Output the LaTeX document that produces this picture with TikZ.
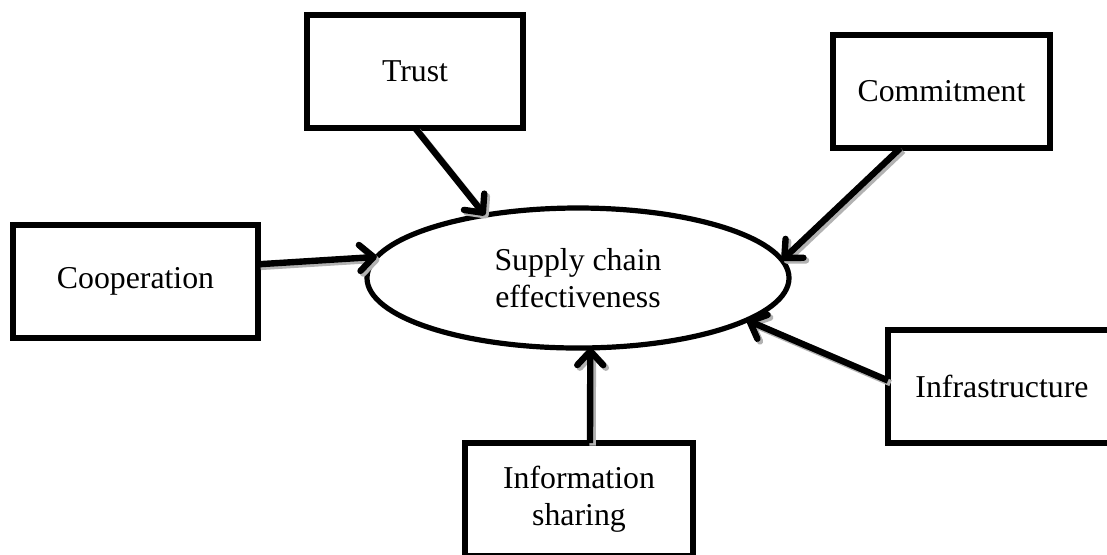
\documentclass[tikz,border=0pt]{standalone}
\usepackage{fontspec}
\setmainfont{Liberation Serif}
\usepackage{tikz}
\usetikzlibrary{arrows.meta}
\usetikzlibrary{shapes.geometric}

\tikzset{
  factor/.style={draw, line width=3pt, minimum height=56.5pt, inner sep=0pt, outer sep=0pt,
    align=center, font=\fontsize{15.9}{18.5}\selectfont},
  outcome/.style={draw, ellipse, line width=2.6pt, minimum width=211pt, minimum height=70pt,
    inner sep=0pt, outer sep=0pt, align=center, font=\fontsize{15.9}{18.5}\selectfont},
  link/.style={-{Straight Barb[length=7pt,width=13pt,round]}, line width=3.2pt},
  linkshade/.style={-{Straight Barb[length=7pt,width=13pt,round]}, line width=3.2pt, gray!60,
    transform canvas={shift={(1.3pt,-1.3pt)}}}
}

\begin{document}
\begin{tikzpicture}[x=0.5pt,y=-0.5pt]
\clip (0,0) rectangle (1107,554);
\fill[white] (0,0) rectangle (1107,554);
\node[outcome] (sce) at (578,278) {Supply chain\\effectiveness};
\node[factor, minimum width=108pt] (trust) at (415,71.5) {Trust};
\node[factor, minimum width=108.5pt] (commit) at (941.5,91.5) {Commitment};
\node[factor, minimum width=122.5pt] (coop) at (135.5,281.5) {Cooperation};
\node[factor, minimum width=114pt] (infra) at (1002,386.5) {Infrastructure};
\node[factor, minimum width=114pt] (info) at (579,499.5) {Information\\sharing};
\foreach \a/\b in {trust.south/sce.146, commit.234/sce.5, coop.8/sce.174,
                   info.79/sce.280, infra.177/sce.346}
{
  \draw [linkshade] (\a) -- (\b);
  \draw [link] (\a) -- (\b);
}
\end{tikzpicture}
\end{document}
